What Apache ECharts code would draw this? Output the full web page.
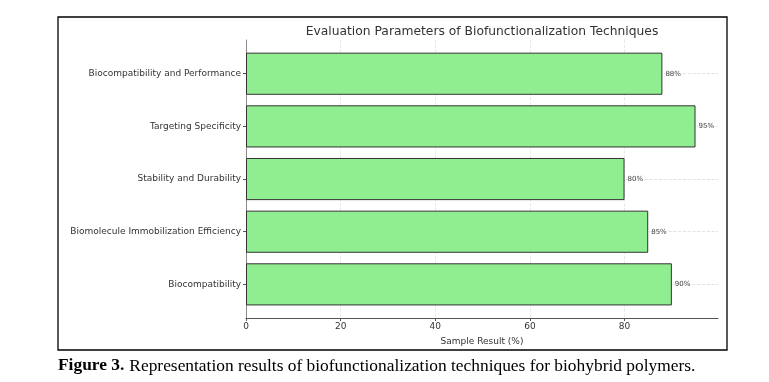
<!DOCTYPE html>
<html>
<head>
<meta charset="utf-8">
<script src="https://cdn.jsdelivr.net/npm/echarts@6/dist/echarts.min.js"></script>
<style>
  html, body { margin: 0; padding: 0; background: #fff; }
  #chart { width: 769px; height: 382px; }
</style>
</head>
<body>
<div id="chart"></div>
<script>
// categories top -> bottom as shown
const categories = [
  'Biocompatibility and Performance',
  'Targeting Specificity',
  'Stability and Durability',
  'Biomolecule Immobilization Efficiency',
  'Biocompatibility'
];
const values = [88, 95, 80, 85, 90];
const xTicks = [0, 20, 40, 60, 80];

const chartTitle = 'Evaluation Parameters of Biofunctionalization Techniques';
const xName = 'Sample Result (%)';

const chart = echarts.init(document.getElementById('chart'), null, { renderer: 'canvas' });

const labelFont = 'DejaVu Sans';
const plotLeft = 246, plotRight = 51;

const option = {
  animation: false,
  backgroundColor: '#fff',
  title: [{
    text: chartTitle,
    left: 477,
    textAlign: 'center',
    top: 21,
    textStyle: { fontFamily: labelFont, fontSize: 12.3, fontWeight: 'normal', color: '#333' }
  }, {
    text: '{b|Figure 3.} {n|Representation results of biofunctionalization techniques for biohybrid polymers.}',
    left: 53,
    top: 352,
    textStyle: {
      fontWeight: 'normal',
      rich: {
        b: { fontFamily: 'Liberation Serif', fontSize: 17.4, fontWeight: 'bold', color: '#000' },
        n: { fontFamily: 'Liberation Serif', fontSize: 17.4, fontWeight: 'normal', color: '#000' }
      }
    }
  }],
  graphic: [{
    type: 'rect',
    shape: { x: 58, y: 17, width: 669, height: 333 },
    style: { fill: 'none', stroke: '#000', lineWidth: 1.3 },
    silent: true
  }],
  grid: [
    // frame grid: spines, x ticks, vertical grid
    { left: plotLeft, right: plotRight, top: 40, height: 278, containLabel: false },
    // bar grid: matplotlib-style margins around the bars
    { left: plotLeft, right: plotRight, top: 47.4, height: 263.3, containLabel: false }
  ],
  xAxis: [{
    gridIndex: 0,
    type: 'value',
    min: 0,
    max: 99.75,
    interval: 20,
    name: xName,
    nameLocation: 'middle',
    nameGap: 19,
    nameTextStyle: { fontFamily: labelFont, fontSize: 9, color: '#333' },
    axisLine: { show: true, lineStyle: { color: '#555', width: 1 } },
    axisTick: { show: true, length: 3, lineStyle: { color: '#555' } },
    axisLabel: {
      fontFamily: labelFont, fontSize: 9, color: '#333', margin: 4,
      showMaxLabel: false,
      formatter: v => (xTicks.indexOf(v) >= 0 ? String(v) : '')
    },
    splitLine: {
      show: true, showMinLine: false, showMaxLine: false,
      lineStyle: { color: '#e2e2e2', type: 'dashed', width: 0.8 }
    }
  }, {
    gridIndex: 1,
    type: 'value',
    min: 0,
    max: 99.75,
    show: false
  }],
  yAxis: [{
    gridIndex: 0,
    type: 'value',
    min: 0,
    max: 1,
    axisLine: { show: true, lineStyle: { color: '#888', width: 1 } },
    axisTick: { show: false },
    axisLabel: { show: false },
    splitLine: { show: false }
  }, {
    gridIndex: 1,
    type: 'category',
    data: categories,
    inverse: true,
    axisLine: { show: false },
    axisTick: { show: true, alignWithLabel: true, length: 3, lineStyle: { color: '#555' } },
    axisLabel: { fontFamily: labelFont, fontSize: 9, color: '#333', margin: 5 },
    splitLine: { show: false }
  }],
  series: [{
    type: 'bar',
    xAxisIndex: 1,
    yAxisIndex: 1,
    data: values,
    barWidth: '80%',
    itemStyle: { color: '#90ee90', borderColor: '#333', borderWidth: 1 },
    label: {
      show: true,
      position: 'right',
      distance: 3,
      formatter: p => p.value + '%',
      fontFamily: labelFont,
      fontSize: 7,
      color: '#444'
    },
    markLine: {
      silent: true,
      z: 1,
      symbol: 'none',
      label: { show: false },
      lineStyle: { color: '#dcdcdc', type: 'dashed', width: 0.8 },
      data: categories.map(c => ({ yAxis: c }))
    }
  }]
};

chart.setOption(option);
</script>
</body>
</html>
